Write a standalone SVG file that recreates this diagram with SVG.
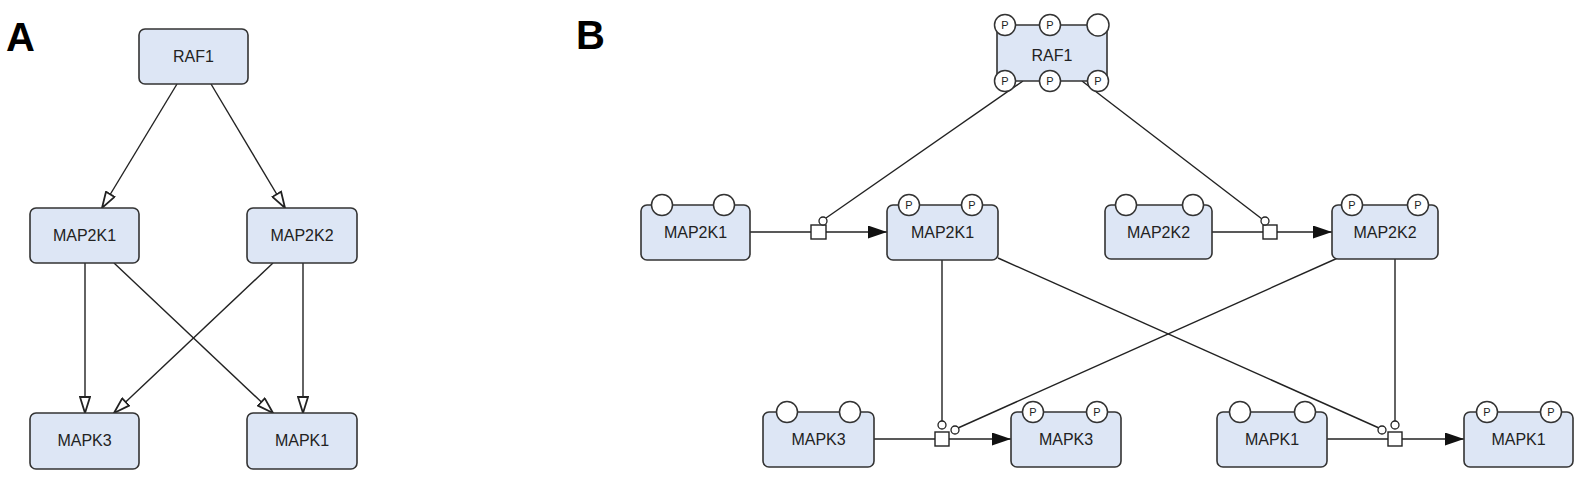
<svg xmlns="http://www.w3.org/2000/svg" width="1590" height="489" viewBox="0 0 1590 489">
<style>
.box{fill:#dde6f5;stroke:#333;stroke-width:1.6}
.lbl{font-family:"Liberation Sans",Arial,sans-serif;font-size:16px;fill:#222;text-anchor:middle}
.pan{font-family:"Liberation Sans",Arial,sans-serif;font-size:40px;font-weight:bold;fill:#000}
.st{fill:#fff;stroke:#333;stroke-width:1.5}
.pt{font-family:"Liberation Sans",Arial,sans-serif;font-size:11px;fill:#222;text-anchor:middle}
.ln{fill:none;stroke:#222;stroke-width:1.4}
.sq{fill:#fff;stroke:#222;stroke-width:1.4}
.mc{fill:#fff;stroke:#222;stroke-width:1.3}
</style>
<defs>
<marker id="open" markerUnits="userSpaceOnUse" viewBox="0 0 18 12" markerWidth="18" markerHeight="12" refX="17" refY="6" orient="auto">
<path d="M1,1 L17,6 L1,11 Z" fill="#fff" stroke="#222" stroke-width="1.8"/>
</marker>
<marker id="fill" markerUnits="userSpaceOnUse" viewBox="0 0 19 13" markerWidth="19" markerHeight="13" refX="19" refY="6.5" orient="auto">
<path d="M0,0 L19,6.5 L0,13 Z" fill="#111"/>
</marker>
</defs>
<rect width="1590" height="489" fill="#fff"/>
<text class="pan" x="6" y="51">A</text>
<text class="pan" x="576" y="49">B</text>

<g id="connectors-A">
<line class="ln" x1="177" y1="84" x2="102" y2="208" marker-end="url(#open)"/>
<line class="ln" x1="211" y1="84" x2="285" y2="208" marker-end="url(#open)"/>
<line class="ln" x1="85" y1="263" x2="85" y2="413" marker-end="url(#open)"/>
<line class="ln" x1="114" y1="263" x2="273" y2="413" marker-end="url(#open)"/>
<line class="ln" x1="273" y1="263" x2="114" y2="413" marker-end="url(#open)"/>
<line class="ln" x1="303" y1="263" x2="303" y2="413" marker-end="url(#open)"/>
</g>

<g id="A-RAF1"><rect class="box" x="139" y="29" width="109" height="55" rx="6"/><text class="lbl" x="193.5" y="62">RAF1</text></g>
<g id="A-MAP2K1"><rect class="box" x="30" y="208" width="109" height="55" rx="6"/><text class="lbl" x="84.5" y="241">MAP2K1</text></g>
<g id="A-MAP2K2"><rect class="box" x="247" y="208" width="110" height="55" rx="6"/><text class="lbl" x="302" y="241">MAP2K2</text></g>
<g id="A-MAPK3"><rect class="box" x="30" y="413" width="109" height="56" rx="6"/><text class="lbl" x="84.5" y="446">MAPK3</text></g>
<g id="A-MAPK1"><rect class="box" x="247" y="413" width="110" height="56" rx="6"/><text class="lbl" x="302" y="446">MAPK1</text></g>

<g id="connectors-B">
<line class="ln" x1="1023" y1="81" x2="826" y2="218"/>
<line class="ln" x1="1082" y1="81" x2="1262" y2="219"/>
<line class="ln" x1="942" y1="260" x2="942" y2="421"/>
<line class="ln" x1="1340" y1="257" x2="958" y2="428"/>
<line class="ln" x1="1395" y1="259" x2="1395" y2="421"/>
<line class="ln" x1="998" y1="258" x2="1379" y2="428"/>

<line class="ln" x1="750" y1="232" x2="811" y2="232"/>
<line class="ln" x1="826" y1="232" x2="887" y2="232" marker-end="url(#fill)"/>
<rect class="sq" x="811" y="225" width="15" height="14"/>
<circle class="mc" cx="823" cy="221" r="4"/>

<line class="ln" x1="1212" y1="232" x2="1263" y2="232"/>
<line class="ln" x1="1277" y1="232" x2="1332" y2="232" marker-end="url(#fill)"/>
<rect class="sq" x="1263" y="225" width="14" height="14"/>
<circle class="mc" cx="1265" cy="221" r="4"/>

<line class="ln" x1="874" y1="439" x2="935" y2="439"/>
<line class="ln" x1="949" y1="439" x2="1011" y2="439" marker-end="url(#fill)"/>
<rect class="sq" x="935" y="432" width="14" height="14"/>
<circle class="mc" cx="942" cy="425" r="4"/>
<circle class="mc" cx="955" cy="430" r="4"/>

<line class="ln" x1="1327" y1="439" x2="1388" y2="439"/>
<line class="ln" x1="1402" y1="439" x2="1464" y2="439" marker-end="url(#fill)"/>
<rect class="sq" x="1388" y="432" width="14" height="14"/>
<circle class="mc" cx="1395" cy="425" r="4"/>
<circle class="mc" cx="1382" cy="430" r="4"/>
</g>

<g id="B-RAF1">
<rect class="box" x="997" y="25" width="110" height="56" rx="2"/>
<text class="lbl" x="1052" y="61">RAF1</text>
<circle class="st" cx="1005" cy="25" r="10.5"/><text class="pt" x="1005" y="29">P</text>
<circle class="st" cx="1050" cy="25" r="10.5"/><text class="pt" x="1050" y="29">P</text>
<circle class="st" cx="1098" cy="25" r="11"/>
<circle class="st" cx="1005" cy="81" r="10.5"/><text class="pt" x="1005" y="85">P</text>
<circle class="st" cx="1050" cy="81" r="10.5"/><text class="pt" x="1050" y="85">P</text>
<circle class="st" cx="1098" cy="81" r="10.5"/><text class="pt" x="1098" y="85">P</text>
</g>

<g id="B-MAP2K1-in">
<rect class="box" x="641" y="205" width="109" height="55" rx="6"/>
<circle class="st" cx="662" cy="205" r="10.5"/><circle class="st" cx="724" cy="205" r="10.5"/>
<text class="lbl" x="695.5" y="238">MAP2K1</text>
</g>
<g id="B-MAP2K1-out">
<rect class="box" x="887" y="205" width="111" height="55" rx="6"/>
<circle class="st" cx="909" cy="205" r="10.5"/><text class="pt" x="909" y="209">P</text>
<circle class="st" cx="972" cy="205" r="10.5"/><text class="pt" x="972" y="209">P</text>
<text class="lbl" x="942.5" y="238">MAP2K1</text>
</g>
<g id="B-MAP2K2-in">
<rect class="box" x="1105" y="205" width="107" height="54" rx="6"/>
<circle class="st" cx="1126" cy="205" r="10.5"/><circle class="st" cx="1193" cy="205" r="10.5"/>
<text class="lbl" x="1158.5" y="238">MAP2K2</text>
</g>
<g id="B-MAP2K2-out">
<rect class="box" x="1332" y="205" width="106" height="54" rx="6"/>
<circle class="st" cx="1352" cy="205" r="10.5"/><text class="pt" x="1352" y="209">P</text>
<circle class="st" cx="1418" cy="205" r="10.5"/><text class="pt" x="1418" y="209">P</text>
<text class="lbl" x="1385" y="238">MAP2K2</text>
</g>
<g id="B-MAPK3-in">
<rect class="box" x="763" y="412" width="111" height="55" rx="6"/>
<circle class="st" cx="787" cy="412" r="10.5"/><circle class="st" cx="850" cy="412" r="10.5"/>
<text class="lbl" x="818.5" y="445">MAPK3</text>
</g>
<g id="B-MAPK3-out">
<rect class="box" x="1011" y="412" width="110" height="55" rx="6"/>
<circle class="st" cx="1033" cy="412" r="10.5"/><text class="pt" x="1033" y="416">P</text>
<circle class="st" cx="1097" cy="412" r="10.5"/><text class="pt" x="1097" y="416">P</text>
<text class="lbl" x="1066" y="445">MAPK3</text>
</g>
<g id="B-MAPK1-in">
<rect class="box" x="1217" y="412" width="110" height="55" rx="6"/>
<circle class="st" cx="1240" cy="412" r="10.5"/><circle class="st" cx="1305" cy="412" r="10.5"/>
<text class="lbl" x="1272" y="445">MAPK1</text>
</g>
<g id="B-MAPK1-out">
<rect class="box" x="1464" y="412" width="109" height="55" rx="6"/>
<circle class="st" cx="1487" cy="412" r="10.5"/><text class="pt" x="1487" y="416">P</text>
<circle class="st" cx="1551" cy="412" r="10.5"/><text class="pt" x="1551" y="416">P</text>
<text class="lbl" x="1518.5" y="445">MAPK1</text>
</g>
</svg>
